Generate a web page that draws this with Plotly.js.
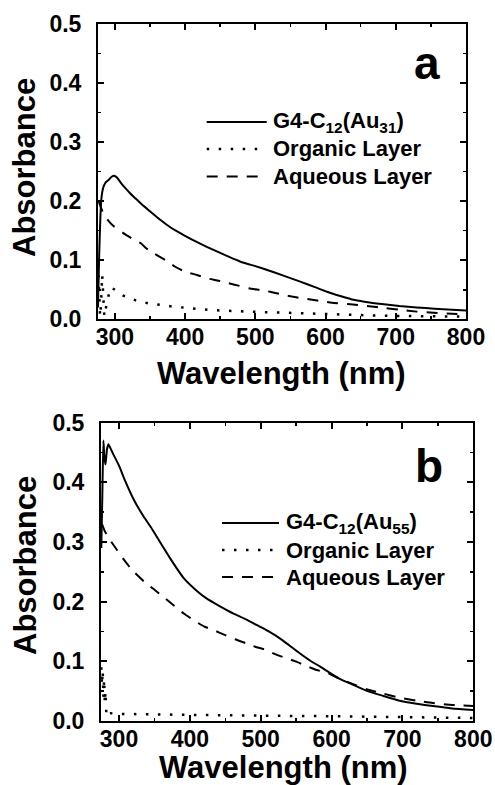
<!DOCTYPE html>
<html>
<head>
<meta charset="utf-8">
<script src="https://cdn.plot.ly/plotly-3.0.1.min.js"></script>
<style>
html,body{margin:0;padding:0;background:#fff;}
#chart{width:495px;height:785px;}
</style>
</head>
<body>
<div id="chart"></div>
<script>
// ---------- Panel a : G4-C12(Au31) ----------
const wlA_solid = [276,277.5,279,280.5,282,284,287,291,295,299,303,308,315,322,329,337,350,365,380,398,420,446,462,479,500,517,540,564,584,602,621,640,660,680,705,730,755,780,800];
const absA_solid = [0.02,0.10,0.16,0.20,0.215,0.225,0.232,0.236,0.241,0.243,0.240,0.232,0.222,0.213,0.205,0.196,0.183,0.168,0.155,0.1427,0.129,0.1145,0.106,0.0975,0.090,0.0835,0.074,0.0637,0.055,0.0467,0.0395,0.033,0.029,0.026,0.0225,0.020,0.018,0.016,0.0147];

const wlA_dashed = [277,280,284,290,298,305,312,320,328,337,345,355,372,386,400,417,431,448,462,476,491,507,521,536,552,564,581,595,609,635,659,685,706,730,754,780,800];
const absA_dashed = [0.20,0.19,0.178,0.168,0.158,0.152,0.146,0.140,0.134,0.1287,0.12,0.112,0.100,0.089,0.0806,0.075,0.0694,0.0654,0.061,0.057,0.0525,0.0495,0.0467,0.0425,0.0385,0.036,0.033,0.0305,0.028,0.0255,0.0226,0.019,0.016,0.013,0.011,0.0095,0.008];

const wlA_dotted = [276,277.5,279,280.5,282,283.5,285,289,294,300,312,330,348,384,436,493,560,611,659,706,800];
const absA_dotted = [0.095,0.04,0.005,0.03,0.075,0.04,0.005,0.03,0.054,0.050,0.040,0.032,0.027,0.0213,0.0157,0.0129,0.010,0.009,0.0068,0.0056,0.0045];

// ---------- Panel b : G4-C12(Au55) ----------
const wlB_solid = [275,276.5,278,279.5,281,283,285,288,292,300,309,320,333,347,360,372,391,410,424,440,461,480,494,510,527,540,555,570,584,597,610,626,649,673,696,720,743,770,800];
const absB_solid = [0.29,0.38,0.47,0.44,0.43,0.455,0.464,0.457,0.447,0.428,0.4015,0.373,0.346,0.321,0.296,0.273,0.240,0.218,0.205,0.194,0.1805,0.170,0.161,0.151,0.1386,0.127,0.1135,0.101,0.091,0.081,0.0716,0.063,0.051,0.042,0.034,0.029,0.025,0.021,0.0184];

const wlB_dashed = [276,280,287,297,309,321,337,348,365,377,391,405,421,433,450,464,480,492,508,520,537,551,567,579,595,609,626,650,673,696,720,743,770,800];
const absB_dashed = [0.33,0.318,0.304,0.287,0.267,0.250,0.232,0.222,0.2056,0.194,0.1805,0.169,0.158,0.1525,0.144,0.137,0.130,0.1245,0.119,0.112,0.105,0.099,0.091,0.0855,0.080,0.072,0.064,0.053,0.046,0.039,0.034,0.030,0.027,0.025];

const wlB_dotted = [275,276,277,278,279,280,281,282,283.5,285,288,300,350,400,500,600,700,800];
const absB_dotted = [0.09,0.06,0.085,0.04,0.07,0.03,0.05,0.015,0.02,0.012,0.013,0.012,0.011,0.010,0.009,0.008,0.0065,0.005];

// ---------- labels ----------
const seriesA = ["G4-C<sub>12</sub>(Au<sub>31</sub>)", "Organic Layer", "Aqueous Layer"];
const seriesB = ["G4-C<sub>12</sub>(Au<sub>55</sub>)", "Organic Layer", "Aqueous Layer"];
const panelLabels = ["a", "b"];
const xTitle = "Wavelength (nm)";
const yTitle = "Absorbance";
const xTicks = [300,400,500,600,700,800];
const yTicks = [0.0,0.1,0.2,0.3,0.4,0.5];

// ---------- styling ----------
const W = 495, H = 785;
const px = x => x / W;
const py = y => 1 - y / H;
const FONT = "Liberation Sans, Arial, Helvetica, sans-serif";
const DOT = "2.5px,9.5px";
const DASH = "11px,9px";

function line(dash, width, smooth){
  const l = {color:"#000", width:width, dash:dash};
  if (smooth) { l.shape = "spline"; l.smoothing = 0.5; }
  return l;
}

const traces = [
  {x:wlA_solid, y:absA_solid, xaxis:"x", yaxis:"y", mode:"lines", name:"G4-C12(Au31)", line:line("solid",2,true)},
  {x:wlA_dotted, y:absA_dotted, xaxis:"x", yaxis:"y", mode:"lines", name:"Organic Layer", line:line(DOT,2.5,false)},
  {x:wlA_dashed, y:absA_dashed, xaxis:"x", yaxis:"y", mode:"lines", name:"Aqueous Layer", line:line(DASH,2,true)},
  {x:wlB_solid, y:absB_solid, xaxis:"x2", yaxis:"y2", mode:"lines", name:"G4-C12(Au55)", line:line("solid",2,true)},
  {x:wlB_dotted, y:absB_dotted, xaxis:"x2", yaxis:"y2", mode:"lines", name:"Organic Layer", line:line(DOT,2.5,false)},
  {x:wlB_dashed, y:absB_dashed, xaxis:"x2", yaxis:"y2", mode:"lines", name:"Aqueous Layer", line:line(DASH,2,true)}
];

function xAxis(domain, range, anchor){
  return {
    domain:domain, range:range, anchor:anchor,
    tickvals:xTicks, ticktext:xTicks.map(String),
    showline:true, linecolor:"#000", linewidth:2, mirror:"allticks",
    ticks:"inside", ticklen:6, tickwidth:2, tickcolor:"#000",
    minor:{ticks:"inside", ticklen:3, tickwidth:1.5, tickcolor:"#000", dtick:50, tick0:250},
    ticklabelstandoff:-4,
    showgrid:false, zeroline:false, fixedrange:true,
    tickfont:{family:FONT, size:23, weight:"bold", color:"#000"}
  };
}
function yAxis(domain, anchor){
  return {
    domain:domain, range:[0,0.5], anchor:anchor,
    tickvals:yTicks, ticktext:yTicks.map(v=>v.toFixed(1)),
    showline:true, linecolor:"#000", linewidth:2, mirror:"allticks",
    ticks:"inside", ticklen:6, tickwidth:2, tickcolor:"#000",
    minor:{ticks:"inside", ticklen:3, tickwidth:1.5, tickcolor:"#000", dtick:0.05, tick0:0},
    ticklabelstandoff:10,
    showgrid:false, zeroline:false, fixedrange:true,
    tickfont:{family:FONT, size:23, weight:"bold", color:"#000"}
  };
}

const txt = (text, x, y, size, opts) => Object.assign({
  text:text, x:px(x), y:py(y), xref:"paper", yref:"paper", showarrow:false,
  xanchor:"center", yanchor:"middle",
  font:{family:FONT, size:size, weight:"bold", color:"#000"}
}, opts||{});

// legend geometry (panel a, panel b)
const legA = {x0:206.7, x1:266.7, tx:270.5, rows:[122,149,176.5]};
const legB = {x0:222, x1:279, tx:284, rows:[523,550,577]};
const dashes = ["solid", DOT, DASH];
const widths = [2, 2.5, 2];

const shapes = [];
const annotations = [];
[[legA, seriesA],[legB, seriesB]].forEach(([g, names]) => {
  names.forEach((n,i) => {
    shapes.push({type:"line", xref:"paper", yref:"paper",
      x0:px(g.x0), x1:px(g.x1), y0:py(g.rows[i]), y1:py(g.rows[i]),
      line:{color:"#000", width:widths[i], dash:dashes[i]}});
    annotations.push(txt(n, g.tx, g.rows[i], 22, {xanchor:"left"}));
  });
});

annotations.push(txt(panelLabels[0], 427, 63, 46));
annotations.push(txt(panelLabels[1], 429, 466, 46));
annotations.push(txt(yTitle, 25, 168, 31, {textangle:-90}));
annotations.push(txt(yTitle, 25, 566, 31, {textangle:-90}));
annotations.push(txt(xTitle, 281, 373, 31));
annotations.push(txt(xTitle, 283, 785, 31, {yanchor:"bottom", yshift:-2}));

const layout = {
  width:W, height:H,
  margin:{l:0, r:0, t:0, b:0},
  paper_bgcolor:"#fff", plot_bgcolor:"#fff",
  showlegend:false,
  font:{family:FONT, color:"#000"},
  xaxis: xAxis([px(98), px(466)], [276, 800], "y"),
  yaxis: yAxis([py(319.3), py(24)], "x"),
  xaxis2: xAxis([px(101), px(473.3)], [274.6, 800], "y2"),
  yaxis2: yAxis([py(721), py(422.7)], "x2"),
  shapes:shapes,
  annotations:annotations
};

Plotly.newPlot("chart", traces, layout, {displayModeBar:false, staticPlot:true});
</script>
</body>
</html>
